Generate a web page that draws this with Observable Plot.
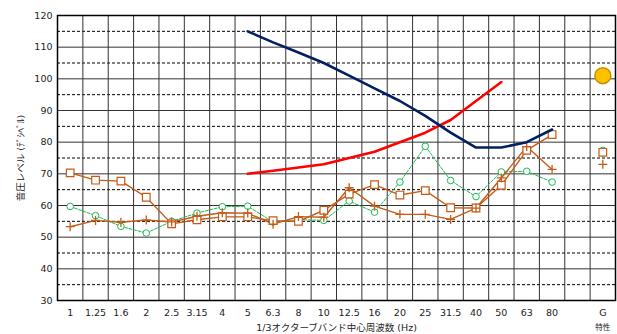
<!DOCTYPE html>
<html><head><meta charset="utf-8">
<script src="https://cdn.jsdelivr.net/npm/d3@7"></script>
<script src="https://cdn.jsdelivr.net/npm/@observablehq/plot@0.6"></script>
<style>
html,body{margin:0;padding:0;background:#fff;}
svg{font-family:"DejaVu Sans","Noto Sans CJK JP",sans-serif;}
</style></head>
<body><div id="chart"></div>
<script>
const categories = ["1","1.25","1.6","2","2.5","3.15","4","5","6.3","8","10","12.5","16","20","25","31.5","40","50","63","80","","G"];
const yTicks = [30,40,50,60,70,80,90,100,110,120];
const yMinor = [35,45,55,65,75,85,95,105,115];
const navyValues = [null,null,null,null,null,null,null,115,111.5,108.3,105,101,97,93,88.3,83,78.3,78.3,80,84,null,null];
const redValues = [null,null,null,null,null,null,null,70,71,72,73,75,77,80,83,87,93,99,null,null,null,null];
const squareValues = [70.3,68.0,67.7,62.6,54.2,55.5,56.4,56.4,55.2,55.0,58.5,63.6,66.6,63.3,64.7,59.3,59.2,66.4,77.4,82.4,null,76.8];
const plusValues = [53.3,55.3,54.7,55.4,54.8,56.6,57.7,57.6,54.1,56.5,56.3,65.6,59.8,57.2,57.2,55.6,59.2,68.7,78.6,71.4,null,73.0];
const circleValues = [59.7,56.8,53.4,51.3,55.0,57.6,59.6,59.8,54.8,55.5,55.3,61.4,57.9,67.4,78.7,67.9,62.8,70.6,70.8,67.4,null,77.4];
const goldValues = [null,null,null,null,null,null,null,null,null,null,null,null,null,null,null,null,null,null,null,null,null,101];

const toRows = vals => vals.map((v, i) => ({i, v}));
const pts = vals => toRows(vals).filter(d => d.v != null);
const boundaries = d3.range(categories.length + 1).map(k => k - 0.5);
const tickIdx = categories.map((c, i) => i).filter(i => categories[i] !== "");

const plusSymbol = {
  draw(ctx, size) {
    const r = Math.sqrt(size / Math.PI);
    ctx.moveTo(-r, 0); ctx.lineTo(r, 0);
    ctx.moveTo(0, -r); ctx.lineTo(0, r);
  }
};

const orange = "#C65A17";
const green = "#1DB954";

const chart = Plot.plot({
  width: 617, height: 334,
  marginLeft: 57, marginRight: 2, marginTop: 15, marginBottom: 34,
  style: {fontSize: "9.5px", fontFamily: "'DejaVu Sans','Noto Sans CJK JP',sans-serif", color: "#222", background: "#fff"},
  x: {type: "linear", domain: [-0.5, categories.length - 0.5]},
  y: {domain: [30, 120]},
  marks: [
    Plot.ruleY(yMinor, {stroke: "#000", strokeWidth: 1, strokeDasharray: "3,2"}),
    Plot.ruleY(yTicks, {stroke: "#333", strokeWidth: 1}),
    Plot.ruleX(boundaries, {stroke: "#333", strokeWidth: 1}),
    Plot.frame({stroke: "#000", strokeWidth: 1.5}),
    Plot.axisY({ticks: yTicks, tickSize: 0, tickPadding: 5, label: "音圧レベル (ﾃﾞｼﾍﾞﾙ)", labelAnchor: "center", labelOffset: 40, labelArrow: "none", fontSize: 9.5}),
    Plot.axisX({ticks: tickIdx, tickSize: 0, tickPadding: 9, tickFormat: i => categories[i], label: "1/3オクターブバンド中心周波数 (Hz)", labelAnchor: "center", labelOffset: 30, labelArrow: "none", fontSize: 9.5}),
    Plot.axisX({ticks: [categories.indexOf("G")], tickSize: 0, tickPadding: 24, tickFormat: () => "特性", label: null, fontSize: 7.5}),
    Plot.line(toRows(circleValues), {x: "i", y: "v", stroke: green, strokeWidth: 1, strokeDasharray: "3,1.5"}),
    Plot.dot(pts(circleValues), {x: "i", y: "v", r: 3.3, stroke: green, fill: "#fff", strokeWidth: 1}),
    Plot.line(toRows(plusValues), {x: "i", y: "v", stroke: orange, strokeWidth: 1.4}),
    Plot.line(toRows(squareValues), {x: "i", y: "v", stroke: orange, strokeWidth: 1.4}),
    Plot.dot(pts(squareValues), {x: "i", y: "v", symbol: "square", r: 4.3, stroke: orange, fill: "#fff", strokeWidth: 1.2}),
    Plot.dot(pts(plusValues), {x: "i", y: "v", symbol: plusSymbol, r: 4.5, stroke: orange, fill: "none", strokeWidth: 1.3}),
    Plot.line(toRows(redValues), {x: "i", y: "v", stroke: "#FF0000", strokeWidth: 2.6}),
    Plot.line(toRows(navyValues), {x: "i", y: "v", stroke: "#002060", strokeWidth: 2.6}),
    Plot.dot(pts(goldValues), {x: "i", y: "v", r: 8, fill: "#FFC000", stroke: "#BF9000", strokeWidth: 1.5})
  ]
});
document.getElementById("chart").append(chart);
</script></body></html>
